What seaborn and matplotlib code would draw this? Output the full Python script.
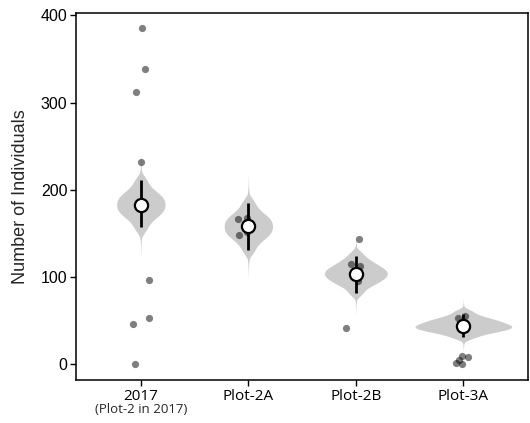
import numpy as np
import pandas as pd
import matplotlib
matplotlib.use("Agg")
import matplotlib.pyplot as plt
import seaborn as sns

# ---------------- data ----------------
groups = ["2017", "Plot-2A", "Plot-2B", "Plot-3A"]
sub_label = "(Plot-2 in 2017)"
y_label = "Number of Individuals"
y_ticks = [0, 100, 200, 300, 400]

# observed counts (grey dots)
obs_2017 = [385, 339, 312, 232, 96, 53, 46, 0]
obs_2a = [148, 152, 166, 168]
obs_2b = [143, 115, 113, 95, 42]
obs_3a = [55, 53, 9, 5, 8, 0, 1]

# estimated posterior draws (quantiles giving the shape of the grey violins)
post_2017 = [154, 161, 166, 169, 172, 174, 176, 178, 180, 182,
             184, 186, 188, 190, 192, 194, 197, 200, 205, 212]
post_2a = [129, 136, 141, 144, 147, 149, 151, 153, 155, 157,
           159, 161, 163, 165, 167, 169, 172, 175, 180, 187]
post_2b = [81, 87, 91, 93, 95, 97, 99, 100, 102, 103,
           105, 106, 108, 109, 111, 113, 115, 118, 121, 127]
post_3a = [30.3, 33.9, 35.9, 37.5, 38.7, 39.8, 40.8, 41.8, 42.7, 43.6,
           44.5, 45.6, 46.7, 47.9, 49.1, 50.4, 51.9, 53.8, 56.2, 60.7]

# posterior mean and interval (white dot + black bar)
post_mean = [183, 158, 103, 44]
ci_low = [157, 131, 82, 31]
ci_high = [211, 185, 124, 57]

# ---------------- frames ----------------
obs_df = pd.DataFrame({
    "group": [groups[0]] * len(obs_2017) + [groups[1]] * len(obs_2a)
             + [groups[2]] * len(obs_2b) + [groups[3]] * len(obs_3a),
    "value": obs_2017 + obs_2a + obs_2b + obs_3a,
})
post_df = pd.DataFrame({
    "group": [groups[0]] * len(post_2017) + [groups[1]] * len(post_2a)
             + [groups[2]] * len(post_2b) + [groups[3]] * len(post_3a),
    "value": post_2017 + post_2a + post_2b + post_3a,
})

sns.set_style("ticks")
plt.rcParams["font.family"] = ["Liberation Sans", "DejaVu Sans"]
np.random.seed(3)

fig, ax = plt.subplots(figsize=(5.3, 4.23), dpi=100)
fig.subplots_adjust(left=0.144, right=0.996, top=0.970, bottom=0.102)

# thin long tails of the posterior (very smooth, narrow layer)
sns.violinplot(data=post_df, x="group", y="value", order=groups,
               color="#cccccc", saturation=1, inner=None, linewidth=0,
               width=0.06, cut=2, bw_method=1.0, density_norm="width", ax=ax)
# main body of the posterior
sns.violinplot(data=post_df, x="group", y="value", order=groups,
               color="#cccccc", saturation=1, inner=None, linewidth=0,
               width=0.9, cut=3, bw_method=0.35, density_norm="area", ax=ax)

sns.stripplot(data=obs_df, x="group", y="value", order=groups,
              color="black", alpha=0.5, size=5.2, jitter=0.1,
              linewidth=0, ax=ax, zorder=3)

pos = np.arange(len(groups))
ax.vlines(pos, ci_low, ci_high, color="black", lw=2.0, zorder=4)
ax.plot(pos, post_mean, "o", ms=9.5, mfc="white", mec="black", mew=1.6,
        zorder=5, ls="none")

ax.set_xlim(-0.6, 3.6)
ax.set_ylim(-18, 403)
ax.set_yticks(y_ticks)
ax.set_xticks(pos)
ax.set_xticklabels(groups)
ax.set_xlabel("")
ax.set_ylabel(y_label, fontsize=13, family="Liberation Sans", labelpad=8)

for sp in ax.spines.values():
    sp.set_visible(True)
    sp.set_linewidth(1.1)
    sp.set_color("black")
ax.tick_params(direction="out", length=4, width=1, pad=2.5, colors="black")
for lab in ax.get_yticklabels():
    lab.set_fontfamily("Liberation Sans")
    lab.set_fontsize(11.5)
for lab in ax.get_xticklabels():
    lab.set_fontfamily("Open Sans")
    lab.set_fontsize(11)

ax.annotate(sub_label, xy=(0, 0), xycoords=("data", "axes fraction"),
            xytext=(0, -16.5), textcoords="offset points", ha="center",
            va="top", fontsize=9.5, family="Open Sans")

fig.savefig("out.png", dpi=100)
